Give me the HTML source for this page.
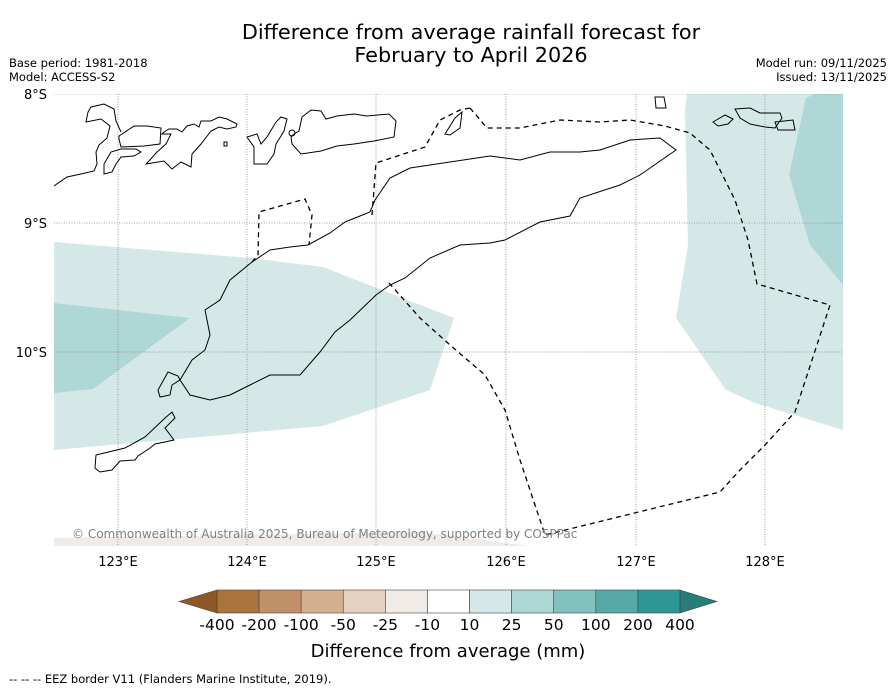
<!DOCTYPE html>
<html><head><meta charset="utf-8"><style>
body{margin:0;background:#fff;font-family:"DejaVu Sans","Liberation Sans",sans-serif;}
svg text{font-family:"DejaVu Sans","Liberation Sans",sans-serif;}
</style></head><body>
<svg width="896" height="690" viewBox="0 0 896 690" xmlns="http://www.w3.org/2000/svg">
<rect width="896" height="690" fill="#fff"/>
<text x="471" y="39" font-size="20.8" text-anchor="middle">Difference from average rainfall forecast for</text>
<text x="471" y="62" font-size="20.8" text-anchor="middle">February to April 2026</text>
<text x="9" y="67" font-size="11.5">Base period: 1981-2018</text>
<text x="9" y="81" font-size="11.5">Model: ACCESS-S2</text>
<text x="887" y="67" font-size="11.5" text-anchor="end">Model run: 09/11/2025</text>
<text x="887" y="81" font-size="11.5" text-anchor="end">Issued: 13/11/2025</text>
<defs><clipPath id="mc"><rect x="54" y="94" width="789" height="452"/></clipPath></defs>
<g clip-path="url(#mc)">
<polygon fill="#d4e9e7" points="54,242 250,258 323,267 454,318 430,390 323,426 54,450"/>
<polygon fill="#aed7d5" points="54,303 190,318 93,389 54,393"/>
<polygon fill="#d4e9e7" points="687,94 843,94 843,430 755,403 726,390 676,318 688,245 685,110"/>
<polygon fill="#aed7d5" points="806,98 815,94 843,94 843,285 810,245 789,175"/>
<polygon fill="#f0ebe6" points="54,538 420,532 530,546 54,546"/>
<g stroke="#888" stroke-width="0.8" stroke-dasharray="1,1.5">
<line x1="118" y1="94" x2="118" y2="546"/><line x1="247" y1="94" x2="247" y2="546"/><line x1="376" y1="94" x2="376" y2="546"/><line x1="506" y1="94" x2="506" y2="546"/><line x1="636" y1="94" x2="636" y2="546"/><line x1="765" y1="94" x2="765" y2="546"/>
<line x1="54" y1="94" x2="843" y2="94"/><line x1="54" y1="223" x2="843" y2="223"/><line x1="54" y1="352" x2="843" y2="352"/>
</g>
<g fill="none" stroke="#000" stroke-width="1">
<polygon points="252,262 270,250 290,247 308,245 330,233 345,222 370,212 375,200 390,178 410,168 450,162 490,156 520,160 550,152 580,152 600,150 630,140 660,138 676,150 640,175 620,185 580,198 570,216 540,222 505,240 490,243 460,245 430,258 405,278 390,285 376,295 350,320 335,332 320,352 300,375 270,375 250,385 230,395 210,400 190,395 180,380 192,360 205,350 210,335 205,310 220,300 230,280"/>
<polygon points="96,455 125,448 145,437 165,418 172,412 175,418 165,428 174,440 155,444 150,448 138,456 135,460 120,461 112,470 100,472 95,468"/>
<polygon points="158,390 168,372 178,376 180,380 172,385 170,395 160,397"/>
<polyline points="54,186 67,177 81,174 94,171 97,164 96,152 99,145 107,138 110,126 101,119 86,122 88,112 91,107 104,104 114,109 116,121 121,132"/>
<polygon points="119,136 134,126 147,126 161,128 160,144 144,146 121,147 119,139"/>
<polygon points="104,164 111,152 121,149 136,149 141,152 134,156 121,157 116,164 112,172 104,174"/>
<polygon points="146,164 164,161 172,169 181,162 191,167 192,154 201,144 211,131 219,127 227,129 236,127 237,124 227,119 219,117 211,121 201,121 199,127 194,124 187,126 182,132 177,129 169,129 164,132 162,134 171,134 166,144 157,152 149,161"/>
<polygon points="254,164 267,164 274,154 276,144 284,131 287,119 281,117 276,122 267,137 261,144 257,134 247,137 254,147"/>
<polygon points="292,144 301,154 321,151 337,146 354,144 374,141 394,137 396,121 389,114 367,116 354,114 337,116 326,119 321,111 311,110 302,117 299,131 294,134 291,137"/>
<circle cx="292" cy="133" r="3"/>
<rect x="224" y="142" width="3" height="4"/>
<polygon points="445,134 455,118 462,112 460,128 450,135"/>
<polygon points="655,97 664,97 666,108 656,108"/>
<polygon points="713,122 725,115 733,119 728,124 718,126"/>
<polygon points="735,109 750,108 760,113 780,113 782,118 775,128 765,127 750,124 740,118"/>
<polygon points="775,122 793,120 795,130 778,130"/>
</g>
<g fill="none" stroke="#000" stroke-width="1.3" stroke-dasharray="5,4">
<polyline points="470,108 487,128 520,128 560,120 600,122 630,120 665,126 690,133 710,150 735,200 748,240 757,284 830,305 795,412 765,445 740,470 720,492 545,535"/>
<polyline points="389,283 420,318 450,345 485,375 505,410 520,460 545,535"/>
<polyline points="372,215 376,163 425,147 440,120 460,110 470,108"/>
<polyline points="252,262 258,255 259,212 305,199 312,215 309,245"/>
</g>
<text x="72" y="538" font-size="12" fill="#808080">© Commonwealth of Australia 2025, Bureau of Meteorology, supported by COSPPac</text>
</g>
<g font-size="13">
<text x="47" y="99" text-anchor="end">8°S</text>
<text x="47" y="228" text-anchor="end">9°S</text>
<text x="47" y="357" text-anchor="end">10°S</text>
<text x="118" y="566" text-anchor="middle">123°E</text>
<text x="247" y="566" text-anchor="middle">124°E</text>
<text x="376" y="566" text-anchor="middle">125°E</text>
<text x="506" y="566" text-anchor="middle">126°E</text>
<text x="636" y="566" text-anchor="middle">127°E</text>
<text x="765" y="566" text-anchor="middle">128°E</text>
</g>
<g id="cbar"></g>
<text x="448" y="657" font-size="18" text-anchor="middle">Difference from average (mm)</text>
<text x="9" y="683" font-size="11.5">-- -- -- EEZ border V11 (Flanders Marine Institute, 2019).</text>
</svg>
<script>
const binColors = ["#ab743f","#c09068","#d4b08f","#e5d1bf","#f0ebe6","#ffffff","#d4e9e7","#aed7d5","#82c1be","#57a9a8","#2e9694"];
const tickLabels = ["-400","-200","-100","-50","-25","-10","10","25","50","100","200","400"];
const extendColors = ["#8d5826","#287c79"];
const ns="http://www.w3.org/2000/svg";
const g=document.getElementById('cbar');
const x0=217,y0=590,h=23,w=(680-217)/binColors.length;
function mk(t,a){const e=document.createElementNS(ns,t);for(const k in a)e.setAttribute(k,a[k]);g.appendChild(e);return e;}
binColors.forEach((c,i)=>{
const r=mk('rect',{x:x0+i*w,y:y0,width:w,height:h,fill:c,stroke:'#444','stroke-width':0.6});


});
const lt=mk('polygon',{points:`${x0},${y0} 179,${y0+h/2} ${x0},${y0+h}`,fill:extendColors[0],stroke:'#444','stroke-width':0.6});


const rt=mk('polygon',{points:`${x0+w*binColors.length},${y0} 717,${y0+h/2} ${x0+w*binColors.length},${y0+h}`,fill:extendColors[1],stroke:'#444','stroke-width':0.6});


tickLabels.forEach((l,i)=>{
const t=mk('text',{x:x0+i*w,y:630,'font-size':15.5,'text-anchor':'middle'});
t.textContent=l;


});
</script>
</body></html>
